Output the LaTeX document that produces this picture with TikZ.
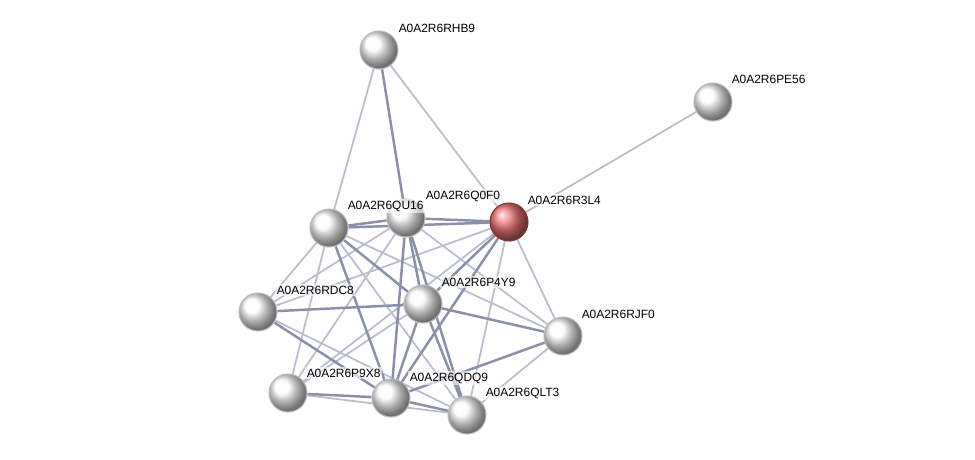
\documentclass[tikz,border=0pt]{standalone}
\usepackage{fontspec}
\setmainfont{Liberation Sans}
\usetikzlibrary{backgrounds}
\definecolor{weakedge}{RGB}{185,189,206}
\definecolor{strongedge}{RGB}{138,143,170}
\definecolor{queryred}{RGB}{236,118,118}
\begin{document}
\begin{tikzpicture}[x=0.02cm,y=-0.02cm]
          \useasboundingbox (0,0) rectangle (975,460);
          \tikzstyle{every node} = [circle, draw=gray!55, line width=0.6pt, inner sep=0pt, minimum size=0.76cm, shading=ball, ball color=gray!3];
          \node(RHB9) at (379,50) {};
          \node(PE56) at (713,102) {};
          \node[draw=red!40!black!80, ball color=queryred](R3L4) at (509,222) {};
          \node(Q0F0) at (406,218) {};
          \node(QU16) at (329,228) {};
          \node(RDC8) at (258,312) {};
          \node(P4Y9) at (423,304) {};
          \node(RJF0) at (563,336) {};
          \node(P9X8) at (288,393) {};
          \node(QDQ9) at (391,398) {};
          \node(QLT3) at (467,415) {};
          \tikzstyle{every node} = [anchor=west, inner sep=0.8pt, fill=white, fill opacity=0.6, text opacity=1, font=\fontsize{6.8}{8}\selectfont]
          \node(RHB9-l) at (397,28) {A0A2R6RHB9};
          \node(PE56-l) at (730,79) {A0A2R6PE56};
          \node(R3L4-l) at (526,200) {A0A2R6R3L4};
          \node(Q0F0-l) at (424,196) {A0A2R6Q0F0};
          \node(QU16-l) at (346,206) {A0A2R6QU16};
          \node(RDC8-l) at (275,290) {A0A2R6RDC8};
          \node(P4Y9-l) at (440,282) {A0A2R6P4Y9};
          \node(RJF0-l) at (580,314) {A0A2R6RJF0};
          \node(P9X8-l) at (305,373) {A0A2R6P9X8};
          \node(QDQ9-l) at (408,378) {A0A2R6QDQ9};
          \node(QLT3-l) at (484,393) {A0A2R6QLT3};
          \begin{scope}[on background layer]
          \path[weakedge, line width=1pt]
          (RHB9) edge (QU16)
          (RHB9) edge (R3L4)
          (R3L4) edge (PE56)
          (QU16) edge (RDC8)
          (QU16) edge (P9X8)
          (QU16) edge (QLT3)
          (QU16) edge (RJF0)
          (Q0F0) edge (RDC8)
          (Q0F0) edge (P9X8)
          (Q0F0) edge (RJF0)
          (R3L4) edge (RDC8)
          (R3L4) edge (P9X8)
          (R3L4) edge (RJF0)
          (R3L4) edge (QLT3)
          (RDC8) edge (QLT3)
          (P4Y9) edge (P9X8)
          (RJF0) edge (QLT3)
          (P9X8) edge (QLT3);
          \path[strongedge, line width=1.4pt]
          (RHB9) edge (Q0F0)
          (QU16) edge (Q0F0)
          (QU16) edge (R3L4)
          (Q0F0) edge (R3L4)
          (QU16) edge (P4Y9)
          (QU16) edge (QDQ9)
          (Q0F0) edge (P4Y9)
          (Q0F0) edge (QDQ9)
          (Q0F0) edge (QLT3)
          (R3L4) edge (P4Y9)
          (R3L4) edge (QDQ9)
          (RDC8) edge (P4Y9)
          (RDC8) edge (QDQ9)
          (P4Y9) edge (RJF0)
          (P4Y9) edge (QDQ9)
          (P4Y9) edge (QLT3)
          (RJF0) edge (QDQ9)
          (P9X8) edge (QDQ9)
          (QDQ9) edge (QLT3);
          \end{scope}
\end{tikzpicture}
\end{document}
